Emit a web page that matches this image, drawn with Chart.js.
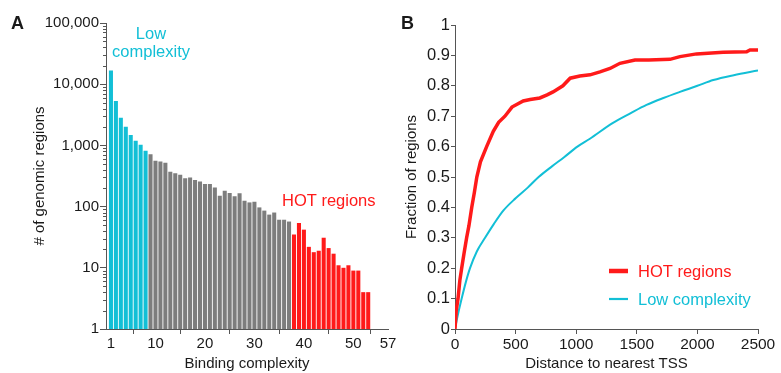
<!DOCTYPE html>
<html><head><meta charset="utf-8">
<script src="https://cdn.jsdelivr.net/npm/chart.js@4.4.1/dist/chart.umd.min.js"></script>
<style>
html,body{margin:0;padding:0;background:#fff;}
#wrap{position:relative;width:781px;height:373px;overflow:hidden;background:#fff;}
#cA{position:absolute;left:0;top:0;}
#cB{position:absolute;left:390px;top:0;}
</style></head><body>
<div id="wrap">
<canvas id="cA" width="400" height="373"></canvas>
<canvas id="cB" width="391" height="373"></canvas>
</div>
<script>
// ---------- Panel A data ----------
const complexity = [1,2,3,4,5,6,7,8,9,10,11,12,13,14,15,16,17,18,19,20,21,22,23,24,25,26,27,28,29,30,31,32,33,34,35,36,37,38,39,40,41,42,43,44,45,46,47,48,49,50,51,52,53];
const regionCounts = [16700,5300,2830,2020,1480,1190,1020,815,720,560,545,520,370,350,330,290,300,272,258,234,234,206,151,182,167,147,165,125,117,120,97,86,74,80,61,61,57,35,54,42,22,18,19,31,21,17,11,10,11,9,9,4,4];
const lowComplexityMax = 8;   // bars 1..8 are "Low complexity"
const hotMin = 38;            // bars 38.. are "HOT regions"
const xTicksA = [1,10,20,30,40,50,57];
const yTicksA = [1,10,100,1000,10000,100000];

// ---------- Panel B data ----------
const hotDist = [0,10,25,40,55,75,96,115,138,160,180,210,261,316,360,412,470,563,620,700,760,809,890,950,1030,1114,1196,1279,1361,1485,1600,1774,1856,1993,2213,2406,2434,2500];
const hotFrac = [0,0.06,0.1,0.16,0.2,0.25,0.3,0.34,0.4,0.45,0.5,0.55,0.6,0.65,0.68,0.7,0.73,0.75,0.755,0.76,0.77,0.78,0.8,0.825,0.832,0.836,0.846,0.857,0.874,0.885,0.885,0.887,0.896,0.905,0.91,0.912,0.918,0.918];
const lowDist = [0,20,55,90,124,180,248,320,400,500,600,690,800,900,1010,1110,1300,1450,1580,1720,1856,2000,2131,2300,2500];
const lowFrac = [0,0.04,0.1,0.155,0.2,0.255,0.3,0.345,0.39,0.43,0.465,0.5,0.535,0.565,0.6,0.625,0.677,0.71,0.737,0.76,0.78,0.8,0.819,0.835,0.85];
const xTicksB = [0,500,1000,1500,2000,2500];
const yTicksB = [0,0.1,0.2,0.3,0.4,0.5,0.6,0.7,0.8,0.9,1];

const CYAN = '#12bfd6', RED = '#ff1a1a', GRAY = '#7d7d7d', AXIS = '#555', TXT = '#1a1a1a';
const FONT = "'Liberation Sans', Arial, Helvetica, sans-serif";

const barColors = complexity.map(c => c <= lowComplexityMax ? CYAN : (c >= hotMin ? RED : GRAY));

const panelA = {
  id: 'panelA',
  afterDraw(chart) {
    const ctx = chart.ctx, y = chart.scales.y, ca = chart.chartArea;
    ctx.save();
    ctx.strokeStyle = AXIS; ctx.lineWidth = 1;
    for (let d = 1; d < 100000; d *= 10) {
      for (let m = 2; m <= 9; m++) {
        const py = Math.round(y.getPixelForValue(d * m)) + 0.5;
        ctx.beginPath(); ctx.moveTo(ca.left - 3, py); ctx.lineTo(ca.left, py); ctx.stroke();
      }
    }
    ctx.fillStyle = TXT; ctx.font = "bold 18px " + FONT; ctx.textAlign = 'left'; ctx.textBaseline = 'alphabetic';
    ctx.fillText('A', 11, 29);
    ctx.font = "16.5px " + FONT; ctx.textAlign = 'center'; ctx.fillStyle = CYAN;
    ctx.fillText('Low', ca.left + 45, 39);
    ctx.fillText('complexity', ca.left + 45, 57);
    ctx.fillStyle = RED; ctx.textAlign = 'left';
    ctx.fillText('HOT regions', ca.left + 176, 206);
    ctx.restore();
  }
};

new Chart(document.getElementById('cA'), {
  type: 'bar',
  data: { datasets: [{
    data: complexity.map((c, i) => ({ x: c, y: regionCounts[i] })),
    backgroundColor: barColors, borderWidth: 0,
    categoryPercentage: 1, barPercentage: 0.82
  }]},
  options: {
    responsive: false, animation: false, devicePixelRatio: 1,
    layout: { padding: { left: 31, top: 23, right: 12, bottom: 0 } },
    plugins: { legend: { display: false }, tooltip: { enabled: false } },
    scales: {
      x: {
        type: 'linear', min: 0, max: 57, offset: false,
        afterBuildTicks: s => { s.ticks = xTicksA.map(v => ({ value: v })); },
        afterFit: s => { s.height = 44; },
        grid: { display: true, drawOnChartArea: false, tickLength: 5, color: AXIS },
        border: { color: AXIS, width: 1 },
        ticks: { color: TXT, font: { size: 15, family: FONT }, padding: 1, maxRotation: 0, autoSkip: false },
        title: { display: true, text: 'Binding complexity', color: TXT, font: { size: 15, family: FONT }, padding: 0 }
      },
      y: {
        type: 'logarithmic', min: 1, max: 100000,
        afterBuildTicks: s => { s.ticks = yTicksA.map(v => ({ value: v, major: true })); },
        afterFit: s => { s.width = 75; },
        grid: { display: true, drawOnChartArea: false, tickLength: 6, color: AXIS },
        border: { color: AXIS, width: 1 },
        ticks: { color: TXT, font: { size: 15, family: FONT }, padding: 1, autoSkip: false,
          callback: v => Number(v).toLocaleString('en-US') },
        title: { display: true, text: '# of genomic regions', color: TXT, font: { size: 15, family: FONT }, padding: 0 }
      }
    }
  },
  plugins: [panelA]
});

const panelB = {
  id: 'panelB',
  afterDraw(chart) {
    const ctx = chart.ctx, ca = chart.chartArea;
    ctx.save();
    ctx.fillStyle = TXT; ctx.font = "bold 18px " + FONT; ctx.textAlign = 'left'; ctx.textBaseline = 'alphabetic';
    ctx.fillText('B', 11, 29);
    const rows = [271, 299];
    chart.data.datasets.forEach((ds, i) => {
      const y = rows[i];
      ctx.strokeStyle = ds.borderColor; ctx.lineWidth = ds.legendWidth;
      ctx.beginPath(); ctx.moveTo(ca.right - 149, y); ctx.lineTo(ca.right - 130, y); ctx.stroke();
      ctx.fillStyle = ds.borderColor; ctx.font = "16.5px " + FONT;
      ctx.fillText(ds.label, ca.right - 120, y + 6);
    });
    ctx.restore();
  }
};

new Chart(document.getElementById('cB'), {
  type: 'line',
  data: { datasets: [
    { label: 'HOT regions', data: hotDist.map((d, i) => ({ x: d, y: hotFrac[i] })),
      borderColor: RED, borderWidth: 3.5, pointRadius: 0, tension: 0, legendWidth: 4.5 },
    { label: 'Low complexity', data: lowDist.map((d, i) => ({ x: d, y: lowFrac[i] })),
      borderColor: CYAN, borderWidth: 2, pointRadius: 0, cubicInterpolationMode: 'monotone', legendWidth: 2.2 }
  ]},
  options: {
    responsive: false, animation: false, devicePixelRatio: 1,
    layout: { padding: { left: 13, top: 25, right: 23, bottom: 0 } },
    plugins: { legend: { display: false }, tooltip: { enabled: false } },
    scales: {
      x: {
        type: 'linear', min: 0, max: 2500,
        afterBuildTicks: s => { s.ticks = xTicksB.map(v => ({ value: v })); },
        afterFit: s => { s.height = 44; },
        grid: { display: true, drawOnChartArea: false, tickLength: 5, color: AXIS },
        border: { color: AXIS, width: 1 },
        ticks: { color: TXT, font: { size: 15.5, family: FONT }, padding: 1, maxRotation: 0, autoSkip: false,
          callback: v => String(v) },
        title: { display: true, text: 'Distance to nearest TSS', color: TXT, font: { size: 15, family: FONT }, padding: 0 }
      },
      y: {
        type: 'linear', min: 0, max: 1,
        afterBuildTicks: s => { s.ticks = yTicksB.map(v => ({ value: v })); },
        afterFit: s => { s.width = 52; },
        grid: { display: true, drawOnChartArea: false, tickLength: 4, color: AXIS },
        border: { color: AXIS, width: 1 },
        ticks: { color: TXT, font: { size: 16.5, family: FONT }, padding: 1, autoSkip: false,
          callback: v => String(Math.round(v * 10) / 10) },
        title: { display: true, text: 'Fraction of regions', color: TXT, font: { size: 15, family: FONT }, padding: 0 }
      }
    }
  },
  plugins: [panelB]
});
</script>
</body></html>
